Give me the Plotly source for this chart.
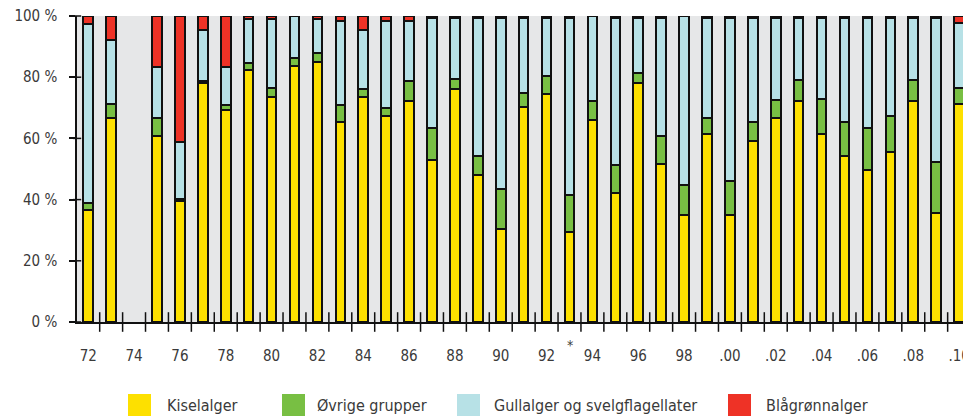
import plotly.graph_objects as go

years = [1972, 1973, 1975, 1976, 1977, 1978, 1979, 1980, 1981, 1982, 1983, 1984,
         1985, 1986, 1987, 1988, 1989, 1990, 1991, 1992, 1993, 1994, 1995, 1996,
         1997, 1998, 1999, 2000, 2001, 2002, 2003, 2004, 2005, 2006, 2007, 2008,
         2009, 2010]
kiselalger = [36.6, 66.6, 60.8, 39.7, 78.1, 69.2, 82.5, 73.6, 83.8, 85.1, 65.2, 73.6,
              67.2, 72.2, 53.0, 76.2, 48.0, 30.5, 70.3, 74.6, 29.4, 65.9, 42.3, 78.1,
              51.7, 35.1, 61.3, 35.1, 59.3, 66.6, 72.2, 61.3, 54.3, 49.7, 55.4, 72.2,
              35.7, 71.4]
ovrige = [2.4, 4.5, 5.9, 0.4, 0.7, 1.7, 2.2, 3.0, 2.4, 2.7, 5.7, 2.6,
          2.6, 6.6, 10.5, 3.3, 6.3, 12.9, 4.6, 5.9, 12.0, 6.3, 9.0, 3.3,
          9.0, 9.6, 5.3, 10.9, 5.9, 5.9, 7.0, 11.6, 10.9, 13.6, 11.8, 7.0,
          16.6, 5.2]
gullalger = [58.4, 21.0, 16.5, 18.6, 16.6, 12.3, 14.4, 22.5, 13.8, 11.3, 27.6, 19.2,
             28.7, 19.7, 35.8, 19.8, 45.0, 55.9, 24.4, 18.8, 57.9, 27.8, 48.0, 17.9,
             38.6, 55.3, 32.7, 53.3, 34.1, 26.8, 20.1, 26.4, 34.1, 36.0, 32.1, 20.1,
             47.0, 21.2]
blagronn = [2.6, 7.9, 16.8, 41.3, 4.6, 16.8, 0.9, 0.9, 0.0, 0.9, 1.5, 4.6,
            1.5, 1.5, 0.7, 0.7, 0.7, 0.7, 0.7, 0.7, 0.7, 0.0, 0.7, 0.7,
            0.7, 0.0, 0.7, 0.7, 0.7, 0.7, 0.7, 0.7, 0.7, 0.7, 0.7, 0.7,
            0.7, 2.2]

series_names = ["Kiselalger", "Øvrige grupper", "Gullalger og svelgflagellater", "Blågrønnalger"]
series_colors = ["#fde000", "#78bf43", "#b7e1e6", "#ee3226"]
series_values = [kiselalger, ovrige, gullalger, blagronn]

label_years = list(range(1972, 2011, 2))
label_text = ["72", "74", "76", "78", "80", "82", "84", "86", "88", "90", "92", "94",
              "96", "98", ".00", ".02", ".04", ".06", ".08", ".10"]
tick_bounds = [y + 0.5 for y in range(1971, 2011)]
y_ticks = [0, 20, 40, 60, 80, 100]
y_text = ["0 %", "20 %", "40 %", "60 %", "80 %", "100 %"]

FONT = "DejaVu Sans Condensed, DejaVu Sans, sans-serif"
TXT = "#3a3a3a"
LINE = "#111111"
W, H = 963, 416
L, R, T, B = 77, 963, 16, 322
XR = [1971.51, 2010.17]


def px_x(px):
    return (px - L) / (R - L)


def px_y(py):
    return (B - py) / (B - T)


fig = go.Figure()
for name, col, vals in zip(series_names, series_colors, series_values):
    fig.add_trace(go.Bar(x=years, y=vals, name=name, width=0.42,
                         marker=dict(color=col, line=dict(color=LINE, width=2)),
                         showlegend=False, hoverinfo="skip"))

# crossing tick marks on the x axis (between years)
fig.add_trace(go.Scatter(x=tick_bounds, y=[0] * len(tick_bounds), mode="markers",
                         marker=dict(symbol="line-ns-open", size=14, color=LINE,
                                     line=dict(color=LINE, width=1.5)),
                         cliponaxis=False, showlegend=False, hoverinfo="skip"))
# inner part of the y-axis ticks
fig.add_trace(go.Scatter(x=[XR[0]] * len(y_ticks), y=y_ticks, mode="markers",
                         marker=dict(symbol="line-ew-open", size=6, color=LINE,
                                     line=dict(color=LINE, width=1.5)),
                         cliponaxis=False, showlegend=False, hoverinfo="skip"))

fig.update_layout(
    width=W, height=H,
    margin=dict(l=L, r=W - R, t=T, b=H - B, pad=0, autoexpand=False),
    paper_bgcolor="white", plot_bgcolor="#e6e7e8",
    barmode="stack", bargap=0,
    font=dict(family=FONT, size=15, color=TXT),
    xaxis=dict(range=XR, tickmode="array", tickvals=label_years, ticktext=label_text,
               ticks="", showgrid=False, zeroline=False, showline=True,
               linecolor=LINE, linewidth=1.5, ticklabelstandoff=19,
               ticklabeloverflow="allow", automargin=False,
               tickfont=dict(family=FONT, size=15, color=TXT)),
    yaxis=dict(range=[0, 100], tickmode="array", tickvals=y_ticks, ticktext=y_text,
               ticks="outside", ticklen=6, tickwidth=1.5, tickcolor=LINE,
               showgrid=False, zeroline=False, showline=True, linecolor=LINE,
               linewidth=1.5, ticklabelstandoff=9, automargin=False,
               tickfont=dict(family=FONT, size=15, color=TXT)),
    showlegend=False,
)

fig.add_annotation(x=1993, y=px_y(345), xref="x", yref="paper", text="*",
                   showarrow=False, font=dict(family=FONT, size=14, color=TXT),
                   yanchor="middle")

# custom legend
sq_left = [128, 282, 457, 728]
txt_left = [165, 315, 492, 764]
for name, col, sx, tx in zip(series_names, series_colors, sq_left, txt_left):
    fig.add_shape(type="rect", xref="paper", yref="paper",
                  x0=px_x(sx), x1=px_x(sx + 23), y0=px_y(416), y1=px_y(394),
                  fillcolor=col, line=dict(width=0))
    fig.add_annotation(x=px_x(tx), y=px_y(405), xref="paper", yref="paper", text=name,
                       showarrow=False, xanchor="left", yanchor="middle",
                       font=dict(family=FONT, size=16, color=TXT))

fig.write_html("out.html", config={"displayModeBar": False},
               post_script="document.body.style.margin='0';")
